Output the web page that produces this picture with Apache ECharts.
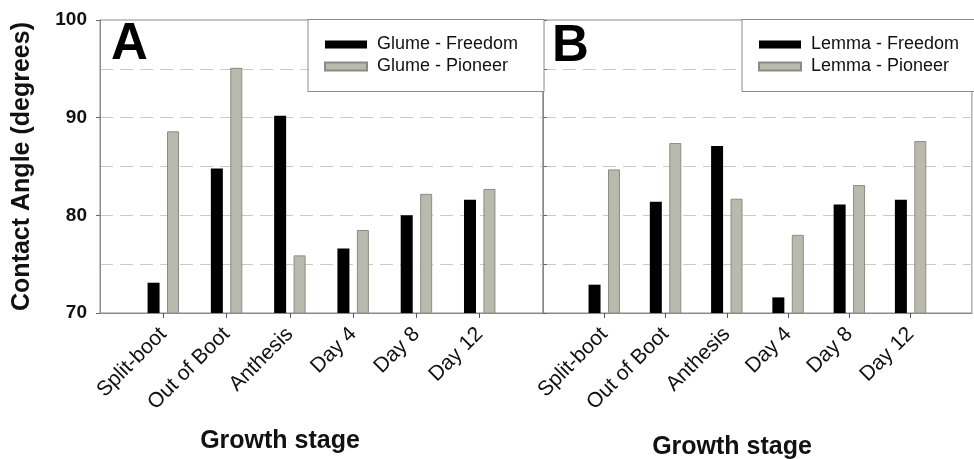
<!DOCTYPE html>
<html>
<head>
<meta charset="utf-8">
<script src="https://cdn.jsdelivr.net/npm/echarts@6/dist/echarts.min.js"></script>
<style>
html,body{margin:0;padding:0;background:#fff;}
#c{width:974px;height:459px;}
</style>
</head>
<body>
<div id="c"></div>
<script>
// ---- data ----
var categories = ['Split-boot', 'Out of Boot', 'Anthesis', 'Day 4', 'Day 8', 'Day 12'];
var glumeFreedom = [73.1, 84.8, 90.2, 76.6, 80.0, 81.6];
var glumePioneer = [88.6, 95.1, 75.9, 78.5, 82.2, 82.7];
var lemmaFreedom = [72.9, 81.4, 87.1, 71.6, 81.1, 81.6];
var lemmaPioneer = [84.7, 87.4, 81.7, 78.0, 83.1, 87.6];
var yTicks = [70, 80, 90, 100];

// ---- helpers ----
var FONT = "'Liberation Sans', Arial, sans-serif";
var padded = function (arr) { return ['-'].concat(arr, ['-']); };
var axisCats = [''].concat(categories, ['']);

function xAxis(gi) {
  return {
    type: 'category', gridIndex: gi, data: axisCats, boundaryGap: false,
    axisLine: { lineStyle: { color: '#8a8a8a', width: 1 } },
    axisTick: { show: true, interval: function (i, v) { return v !== ''; }, length: 5, lineStyle: { color: '#555' } },
    axisLabel: { interval: 0, rotate: 45, fontSize: 21, color: '#111', fontFamily: FONT, margin: 18 },
    splitLine: { show: false }
  };
}
function yAxis(gi, showLabels) {
  var grid = { color: '#c9c9c9', type: [13, 7], width: 1 };
  return {
    type: 'value', gridIndex: gi, min: yTicks[0], max: yTicks[yTicks.length - 1], interval: 10,
    axisLine: { show: true, lineStyle: { color: '#8a8a8a', width: 1 } },
    axisTick: { show: true, inside: !showLabels, length: 4, lineStyle: { color: '#666' } },
    minorTick: { show: !showLabels, splitNumber: 2, length: 4, lineStyle: { color: '#666' } },
    axisLabel: {
      show: showLabels, fontSize: 19, fontWeight: 'bold', color: '#111', fontFamily: FONT, margin: 13,
      formatter: function (v) { return yTicks.indexOf(v) >= 0 ? String(v) : ''; }
    },
    splitLine: { show: true, showMinLine: false, showMaxLine: false, lineStyle: grid },
    minorSplitLine: { show: true, lineStyle: grid },
    name: showLabels ? 'Contact Angle (degrees)' : '',
    nameLocation: 'middle', nameRotate: 90, nameGap: 65,
    nameTextStyle: { fontSize: 25, fontWeight: 'bold', color: '#111', fontFamily: FONT }
  };
}
var grayStyle = { color: '#b9baad', borderColor: '#8c8c84', borderWidth: 1 };
var blackStyle = { color: '#000000' };
function bar(name, data, gi, style) {
  return {
    type: 'bar', name: name, xAxisIndex: gi, yAxisIndex: gi, data: padded(data),
    barWidth: 12, barGap: '62%', itemStyle: style, silent: true, animation: false
  };
}
function legend(names, left) {
  return {
    data: names, orient: 'vertical', left: left, top: 19.5,
    padding: [14, 26, 14, 16], itemGap: 0, itemWidth: 42, itemHeight: 8,
    backgroundColor: '#ffffff', borderColor: '#8a8a8a', borderWidth: 1, borderRadius: 0,
    icon: 'rect', selectedMode: false,
    textStyle: { fontSize: 18, color: '#111', fontFamily: FONT, lineHeight: 22, padding: [0, 0, 0, 5] }
  };
}

var chart = echarts.init(document.getElementById('c'), null, { renderer: 'canvas' });
chart.setOption({
  animation: false,
  backgroundColor: '#ffffff',
  grid: [
    { left: 100, top: 20, width: 443, height: 293, show: true, borderColor: '#8a8a8a', borderWidth: 1, backgroundColor: '#fff' },
    { left: 543, top: 20, width: 442, height: 293, show: true, borderColor: '#8a8a8a', borderWidth: 1, backgroundColor: '#fff' }
  ],
  xAxis: [xAxis(0), xAxis(1)],
  yAxis: [yAxis(0, true), yAxis(1, false)],
  legend: [
    legend(['Glume - Freedom', 'Glume - Pioneer'], 308),
    legend(['Lemma - Freedom', 'Lemma - Pioneer'], 742)
  ],
  series: [
    bar('Glume - Freedom', glumeFreedom, 0, blackStyle),
    bar('Glume - Pioneer', glumePioneer, 0, grayStyle),
    bar('Lemma - Freedom', lemmaFreedom, 1, blackStyle),
    bar('Lemma - Pioneer', lemmaPioneer, 1, grayStyle)
  ],
  graphic: [
    { type: 'text', x: 111, y: 45, z: 100, style: { text: 'A', font: "bold 51px " + FONT, fill: '#000', textAlign: 'left', textVerticalAlign: 'middle' } },
    { type: 'text', x: 552, y: 46.5, z: 100, style: { text: 'B', font: "bold 51px " + FONT, fill: '#000', textAlign: 'left', textVerticalAlign: 'middle' } },
    { type: 'text', x: 280, y: 441.5, z: 100, style: { text: 'Growth stage', font: "bold 25px " + FONT, fill: '#111', textAlign: 'center', textVerticalAlign: 'middle' } },
    { type: 'text', x: 732, y: 447, z: 100, style: { text: 'Growth stage', font: "bold 25px " + FONT, fill: '#111', textAlign: 'center', textVerticalAlign: 'middle' } }
  ]
});
</script>
</body>
</html>
